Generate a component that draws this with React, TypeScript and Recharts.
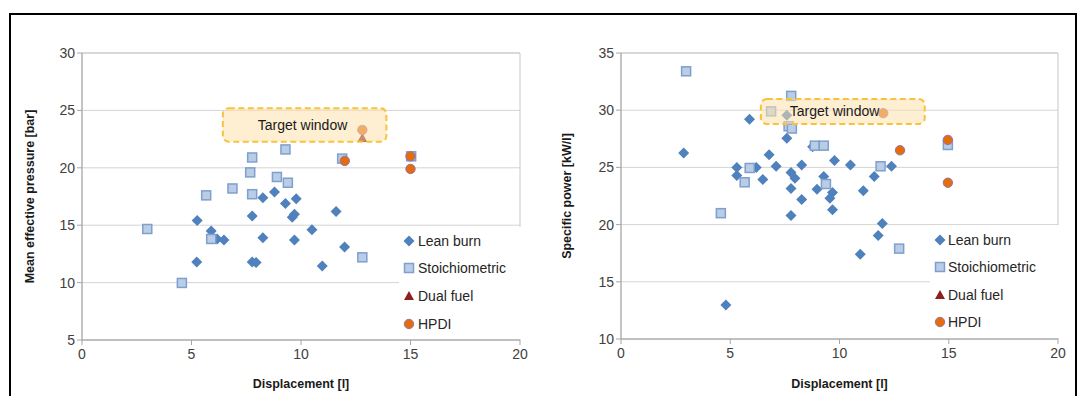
import { ScatterChart, Scatter, XAxis, YAxis, CartesianGrid, ReferenceArea } from "recharts";

type Pt = { x: number; y: number };

const xTicks = [0, 5, 10, 15, 20];
const pressureTicks = [5, 10, 15, 20, 25, 30];
const powerTicks = [10, 15, 20, 25, 30, 35];

// mean effective pressure [bar] vs displacement [l]
const leanBurnPressure: Pt[] = [
  { x: 5.26, y: 15.4 }, { x: 5.9, y: 14.5 }, { x: 6.17, y: 13.8 }, { x: 6.48, y: 13.7 },
  { x: 5.24, y: 11.8 }, { x: 7.77, y: 15.8 }, { x: 8.26, y: 17.4 }, { x: 8.79, y: 17.9 },
  { x: 8.26, y: 13.9 }, { x: 7.77, y: 11.8 }, { x: 7.95, y: 11.75 }, { x: 9.29, y: 16.9 },
  { x: 9.78, y: 17.3 }, { x: 9.6, y: 15.7 }, { x: 9.7, y: 15.95 }, { x: 9.7, y: 13.7 },
  { x: 11.6, y: 16.2 }, { x: 10.5, y: 14.6 }, { x: 11.99, y: 13.1 }, { x: 10.97, y: 11.45 },
];
const stoichPressure: Pt[] = [
  { x: 2.98, y: 14.67 }, { x: 4.56, y: 9.97 }, { x: 5.67, y: 17.6 }, { x: 5.9, y: 13.8 },
  { x: 6.87, y: 18.2 }, { x: 7.77, y: 17.7 }, { x: 7.68, y: 19.6 }, { x: 7.77, y: 20.9 },
  { x: 8.9, y: 19.2 }, { x: 9.4, y: 18.7 }, { x: 9.29, y: 21.6 }, { x: 11.88, y: 20.8 },
  { x: 15.03, y: 21.0 }, { x: 12.8, y: 12.2 },
];
const dualFuelPressure: Pt[] = [{ x: 12.8, y: 22.6 }];
const hpdiPressure: Pt[] = [
  { x: 12.8, y: 23.3 }, { x: 12.0, y: 20.6 }, { x: 15.0, y: 21.0 }, { x: 15.0, y: 19.9 },
];
const pressureWindow = { x1: 6.43, x2: 13.9, y1: 22.27, y2: 25.18 };

// specific power [kW/l] vs displacement [l]
const leanBurnPower: Pt[] = [
  { x: 2.87, y: 26.25 }, { x: 5.88, y: 29.2 }, { x: 7.59, y: 29.55 }, { x: 7.59, y: 27.55 },
  { x: 6.78, y: 26.1 }, { x: 5.3, y: 25.0 }, { x: 5.3, y: 24.3 }, { x: 6.19, y: 25.0 },
  { x: 7.1, y: 25.1 }, { x: 6.49, y: 23.95 }, { x: 7.78, y: 24.55 }, { x: 7.96, y: 24.05 },
  { x: 8.27, y: 25.2 }, { x: 8.77, y: 26.8 }, { x: 7.78, y: 23.15 }, { x: 8.27, y: 22.2 },
  { x: 7.78, y: 20.8 }, { x: 9.77, y: 25.6 }, { x: 10.5, y: 25.2 }, { x: 9.28, y: 24.2 },
  { x: 8.97, y: 23.1 }, { x: 9.68, y: 22.8 }, { x: 9.56, y: 22.3 }, { x: 9.68, y: 21.3 },
  { x: 11.09, y: 22.95 }, { x: 11.59, y: 24.2 }, { x: 12.38, y: 25.1 }, { x: 11.96, y: 20.1 },
  { x: 11.77, y: 19.05 }, { x: 10.95, y: 17.4 }, { x: 4.8, y: 12.97 },
];
const stoichPower: Pt[] = [
  { x: 2.98, y: 33.4 }, { x: 4.57, y: 21.0 }, { x: 5.66, y: 23.7 }, { x: 5.89, y: 24.95 },
  { x: 6.87, y: 29.9 }, { x: 7.79, y: 31.25 }, { x: 7.67, y: 28.6 }, { x: 7.82, y: 28.4 },
  { x: 8.87, y: 26.9 }, { x: 9.28, y: 26.9 }, { x: 9.38, y: 23.55 }, { x: 11.88, y: 25.1 },
  { x: 12.73, y: 17.9 }, { x: 14.96, y: 26.96 },
];
const dualFuelPower: Pt[] = [];
const hpdiPower: Pt[] = [
  { x: 12.0, y: 29.74 }, { x: 12.77, y: 26.5 }, { x: 14.96, y: 27.4 }, { x: 14.96, y: 23.66 },
];
const powerWindow = { x1: 6.4, x2: 13.9, y1: 28.8, y2: 30.97 };

const BLUE = "#4f81bd";
const SQ_FILL = "#b9cde5";
const SQ_STROKE = "#7f9fd0";
const DARK_RED = "#8e1f1f";
const ORANGE = "#e46c0a";
const PURPLE = "#9a72aa";

const Diamond = ({ cx, cy }: any) => (
  <path d={`M${cx},${cy - 5.5}L${cx + 5.5},${cy}L${cx},${cy + 5.5}L${cx - 5.5},${cy}Z`} fill={BLUE} />
);
const Square = ({ cx, cy }: any) => (
  <rect x={cx - 4.5} y={cy - 4.5} width={9} height={9} fill={SQ_FILL} stroke={SQ_STROKE} strokeWidth={1.5} />
);
const Triangle = ({ cx, cy }: any) => (
  <path d={`M${cx},${cy - 5}L${cx + 5},${cy + 4}L${cx - 5},${cy + 4}Z`} fill={DARK_RED} />
);
const Dot = ({ cx, cy }: any) => (
  <circle cx={cx} cy={cy} r={4.7} fill={ORANGE} stroke={PURPLE} strokeWidth={1} />
);

const legendItems = [
  { name: "Lean burn", Shape: Diamond },
  { name: "Stoichiometric", Shape: Square },
  { name: "Dual fuel", Shape: Triangle },
  { name: "HPDI", Shape: Dot },
];

function LegendBox({ left, top, width, height, rowTops, textGap }: any) {
  return (
    <div style={{ position: "absolute", left, top, width, height, background: "#fff" }}>
      {legendItems.map(({ name, Shape }, i) => (
        <div
          key={name}
          style={{
            position: "absolute", left: 4, top: rowTops[i], height: 18, display: "flex",
            alignItems: "center", fontSize: 14, color: "#262626", whiteSpace: "nowrap",
          }}
        >
          <svg width={12} height={12} style={{ marginRight: textGap }}>
            <Shape cx={6} cy={6} />
          </svg>
          {name}
        </div>
      ))}
    </div>
  );
}

// dashed rounded box laid over the points it covers
const targetShape = (p: any) => (
  <rect
    x={p.x} y={p.y} width={p.width} height={p.height} rx={6}
    fill="#fde2ad" fillOpacity={0.55} stroke="#f8c33a" strokeWidth={2} strokeDasharray="6 3.5"
  />
);

function Panel(props: any) {
  const { left, margin, yWidth, xHeight, yTicks, yTitle, yTitleOffset, lean, stoich, dual, hpdi, win, winTextOffset } = props;
  const yDomain = [yTicks[0], yTicks[yTicks.length - 1]];
  return (
    <div style={{ position: "absolute", left, top: 0 }}>
      <ScatterChart width={541} height={396} margin={margin}>
        <CartesianGrid vertical={false} stroke="#d4d4d4" />
        <ReferenceArea x1={0} x2={20} y1={yDomain[0]} y2={yDomain[1]} fill="none" stroke="#c8c8c8" />
        <XAxis
          type="number" dataKey="x" domain={[0, 20]} ticks={xTicks} height={xHeight}
          tick={{ fill: "#404040", fontSize: 14 }} tickSize={5} tickMargin={4}
          axisLine={{ stroke: "#a6a6a6" }} tickLine={{ stroke: "#a6a6a6" }}
          label={{ value: "Displacement [l]", position: "insideBottom", offset: 8, fontSize: 12.5, fontWeight: "bold", fill: "#1a1a1a" }}
        />
        <YAxis
          type="number" dataKey="y" domain={yDomain} ticks={yTicks} width={yWidth}
          tick={{ fill: "#404040", fontSize: 14 }} tickSize={5} tickMargin={2}
          axisLine={{ stroke: "#a6a6a6" }} tickLine={{ stroke: "#a6a6a6" }}
          label={{
            value: yTitle, angle: -90, position: "insideLeft", offset: yTitleOffset,
            fontSize: 12.5, fontWeight: "bold", fill: "#1a1a1a", style: { textAnchor: "middle" },
          }}
        />
        <Scatter name="Lean burn" data={lean} shape={Diamond} isAnimationActive={false} />
        <Scatter name="Stoichiometric" data={stoich} shape={Square} isAnimationActive={false} />
        <Scatter name="Dual fuel" data={dual} shape={Triangle} isAnimationActive={false} />
        <Scatter name="HPDI" data={hpdi} shape={Dot} isAnimationActive={false} />
        <ReferenceArea
          x1={win.x1} x2={win.x2} y1={win.y1} y2={win.y2} shape={targetShape} zIndex={700}
          label={{ value: "Target window", position: "insideLeft", offset: winTextOffset, fontSize: 14, fill: "#1a1a1a" }}
        />
      </ScatterChart>
    </div>
  );
}

export default function App() {
  return (
    <div
      style={{
        position: "absolute", left: 0, top: 0, width: 1082, height: 396, overflow: "hidden",
        background: "#fff", fontFamily: "'Liberation Sans', Arial, sans-serif",
      }}
    >
      <div
        style={{
          position: "absolute", left: 9, top: 13, width: 1068, height: 420,
          border: "2px solid #000", boxSizing: "border-box",
        }}
      />
      <Panel
        left={0} margin={{ top: 53, right: 21, bottom: 0, left: 8 }} yWidth={74} xHeight={56}
        yTicks={pressureTicks} yTitle="Mean effective pressure [bar]" yTitleOffset={22}
        lean={leanBurnPressure} stoich={stoichPressure} dual={dualFuelPressure} hpdi={hpdiPressure}
        win={pressureWindow} winTextOffset={35}
      />
      <Panel
        left={541} margin={{ top: 53, right: 24, bottom: 0, left: 8 }} yWidth={72} xHeight={57}
        yTicks={powerTicks} yTitle="Specific power [kW/l]" yTitleOffset={18}
        lean={leanBurnPower} stoich={stoichPower} dual={dualFuelPower} hpdi={hpdiPower}
        win={powerWindow} winTextOffset={29}
      />
      <LegendBox left={399} top={227} width={123} height={112} rowTops={[5, 32, 60, 88]} textGap={3} />
      <LegendBox left={930} top={225} width={130} height={113} rowTops={[6, 33, 61, 88]} textGap={2} />
    </div>
  );
}
